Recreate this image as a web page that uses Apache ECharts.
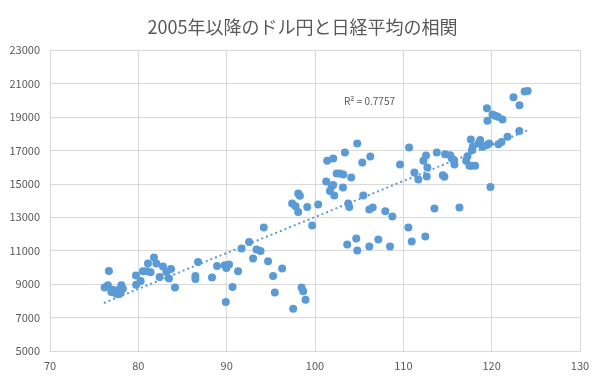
<!DOCTYPE html>
<html>
<head>
<meta charset="utf-8">
<script src="https://cdn.jsdelivr.net/npm/echarts@6/dist/echarts.min.js"></script>
<style>
html,body{margin:0;padding:0;background:#fff;}
#wrap{width:605px;height:382px;box-sizing:border-box;border:1px solid #d9d9d9;position:relative;}
#chart{position:absolute;left:-1px;top:-1px;width:605px;height:382px;}
</style>
</head>
<body>
<div id="wrap"><div id="chart"></div></div>
<script>
// USD/JPY (x) vs Nikkei average (y)
var usdJpy = [
76.18,76.55,76.94,77.12,77.5,77.69,78.07,78.25,78.0,76.67,77.8,
79.73,79.75,80.26,80.52,81.09,81.77,82.04,80.94,81.39,82.41,82.79,83.17,83.47,83.7,84.15,86.46,86.46,86.76,
88.34,88.91,89.78,89.97,90.27,91.29,90.66,89.9,91.68,92.54,94.2,92.99,93.38,93.83,94.69,96.28,95.26,95.45,
98.48,98.66,98.93,97.53,97.41,97.8,98.1,98.1,98.29,99.12,99.68,100.36,
101.38,102.06,103.39,104.78,105.35,106.26,101.27,101.88,102.06,101.69,102.18,102.45,102.82,103.2,104.1,103.16,
105.46,103.76,103.88,106.15,106.53,107.96,108.75,109.63,110.65,111.25,111.7,112.27,112.57,112.72,112.65,113.79,
114.47,114.65,113.52,110.57,110.95,112.49,103.65,104.67,104.78,106.15,107.17,108.49,
124.07,123.73,122.47,123.15,119.46,120.09,120.4,120.7,121.22,119.52,123.12,121.79,121.11,120.77,119.72,119.46,
119.0,118.7,118.5,117.64,117.87,117.76,117.26,117.11,117.48,117.76,118.13,114.73,115.3,115.49,115.75,115.78,
119.86,116.35
];
var nikkei = [
8790,8928,8527,8670,8431,8629,8928,8730,8491,9784,8390,
9509,8958,9186,9766,10228,10587,10228,9766,9707,9425,10048,9725,9329,9905,8790,9485,9306,10323,
9389,10083,10126,9965,10168,9767,8827,7928,11126,11521,12383,10527,11066,10982,10365,9928,9485,8491,
8790,8569,8072,7533,13820,13659,13318,14419,14287,13617,12503,13760,
16371,16515,16874,17413,16275,16635,15138,14856,14934,14575,14299,15617,15617,15557,15377,14778,
14299,13820,13617,13461,13581,13359,13042,16156,17174,15677,15258,16371,16695,15976,15437,16874,
15515,15413,13521,12383,11545,11845,11365,11725,11006,11246,11665,11246,
20545,20515,20168,19689,19510,19150,19066,19006,18850,18766,18150,17808,17491,17371,17413,17313,
17210,17611,17413,17653,17210,17012,16653,16371,16072,16072,16072,16772,16713,16515,16413,16156,
14814,13581
];
// linear trendline endpoints
var trendX = [76.1, 124.1];
var trendY = [7870, 18200];
var rSquared = "R² = 0.7757";
var titleText = "2005年以降のドル円と日経平均の相関";

var points = usdJpy.map(function(x,i){return [x, nikkei[i]];});
var trend = trendX.map(function(x,i){return [x, trendY[i]];});

var chart = echarts.init(document.getElementById('chart'), null, {renderer:'canvas'});
var txt = '#595959', grid = '#d9d9d9';
var font = '"Noto Sans CJK JP", "Noto Sans", sans-serif';
chart.setOption({
  animation:false,
  backgroundColor:'#fff',
  title:{text:titleText,left:'center',top:13,textStyle:{color:txt,fontSize:18,fontWeight:'normal',fontFamily:font}},
  grid:{left:50,right:25,top:50,bottom:31},
  xAxis:{type:'value',min:70,max:130,interval:10,
    axisLine:{show:true,lineStyle:{color:grid}},axisTick:{show:false},
    splitLine:{show:true,lineStyle:{color:grid}},
    axisLabel:{color:txt,fontSize:11,margin:9,fontFamily:font}},
  yAxis:{type:'value',min:5000,max:23000,interval:2000,
    axisLine:{show:true,lineStyle:{color:grid}},axisTick:{show:false},
    splitLine:{show:true,lineStyle:{color:grid}},
    axisLabel:{color:txt,fontSize:11,margin:10,fontFamily:font,formatter:function(v){return String(v);}}},
  series:[
    {type:'scatter',data:points,symbol:'circle',symbolSize:8,itemStyle:{color:'#5B9BD5',opacity:1},z:3},
    {type:'line',data:trend,showSymbol:false,symbol:'none',lineStyle:{color:'#5B9BD5',width:2,type:[2,3]},z:2}
  ],
  graphic:[{type:'text',left:344,top:96,style:{text:rSquared,fill:txt,fontSize:10,fontFamily:font}}]
});
</script>
</body>
</html>
